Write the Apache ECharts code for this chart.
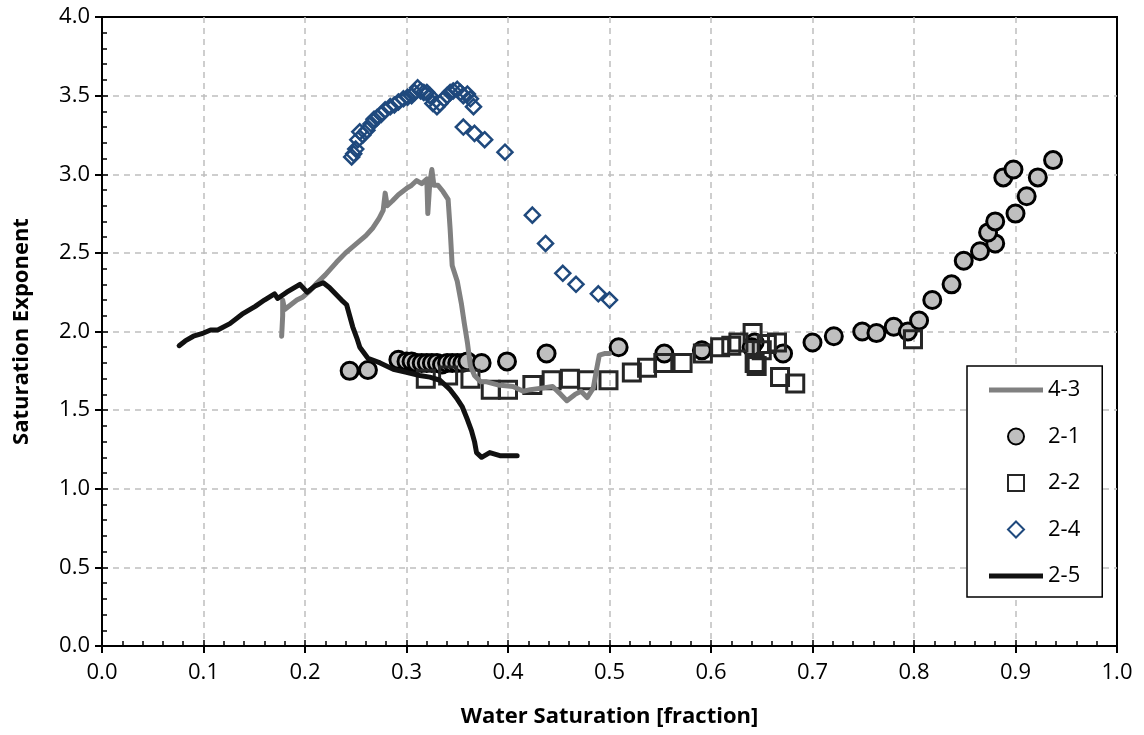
<!DOCTYPE html>
<html>
<head>
<meta charset="utf-8">
<script src="https://cdn.jsdelivr.net/npm/echarts@6/dist/echarts.min.js"></script>
<style>html,body{margin:0;padding:0;background:#fff}#c{width:1144px;height:735px}</style>
</head>
<body>
<div id="c"></div>
<script>
// ---- data ----
const xTicks = [0.0,0.1,0.2,0.3,0.4,0.5,0.6,0.7,0.8,0.9,1.0];
const yTicks = [0.0,0.5,1.0,1.5,2.0,2.5,3.0,3.5,4.0];

const s43_x = [0.177,0.178,0.178,0.180,0.186,0.192,0.198,0.205,0.212,0.220,0.231,0.240,0.251,0.260,0.267,0.273,0.277,0.279,0.281,0.286,0.292,0.300,0.305,0.310,0.315,0.320,0.321,0.323,0.325,0.327,0.331,0.336,0.341,0.343,0.345,0.350,0.354,0.357,0.360,0.363,0.367,0.373,0.379,0.390,0.405,0.415,0.422,0.433,0.444,0.452,0.458,0.466,0.472,0.478,0.484,0.487,0.490,0.495,0.500];
const s43_y = [1.97,2.10,2.20,2.14,2.17,2.20,2.22,2.26,2.31,2.36,2.44,2.50,2.56,2.61,2.66,2.72,2.77,2.88,2.80,2.83,2.87,2.91,2.93,2.96,2.94,2.97,2.75,2.95,3.03,2.93,2.93,2.89,2.84,2.65,2.42,2.32,2.18,2.05,1.93,1.78,1.72,1.68,1.68,1.66,1.65,1.62,1.63,1.64,1.65,1.60,1.56,1.60,1.62,1.58,1.64,1.75,1.85,1.86,1.86];

const s21_x = [0.244,0.262,0.292,0.300,0.305,0.310,0.315,0.320,0.325,0.330,0.335,0.340,0.345,0.350,0.355,0.360,0.374,0.399,0.438,0.509,0.554,0.591,0.643,0.640,0.671,0.700,0.721,0.749,0.763,0.780,0.794,0.805,0.818,0.837,0.849,0.865,0.880,0.873,0.880,0.888,0.898,0.900,0.911,0.922,0.937];
const s21_y = [1.75,1.755,1.82,1.81,1.81,1.80,1.80,1.80,1.80,1.80,1.79,1.80,1.80,1.80,1.80,1.81,1.80,1.81,1.86,1.90,1.86,1.88,1.93,1.90,1.86,1.93,1.97,2.00,1.99,2.03,2.00,2.07,2.20,2.30,2.45,2.51,2.56,2.63,2.70,2.98,3.03,2.75,2.86,2.98,3.09];

const s22_x = [0.319,0.341,0.363,0.383,0.400,0.424,0.443,0.461,0.478,0.499,0.522,0.537,0.553,0.572,0.592,0.609,0.620,0.627,0.641,0.643,0.645,0.650,0.655,0.665,0.668,0.683,0.799];
const s22_y = [1.70,1.72,1.70,1.63,1.63,1.66,1.69,1.70,1.69,1.69,1.74,1.77,1.80,1.80,1.86,1.90,1.91,1.93,1.99,1.80,1.78,1.88,1.92,1.93,1.71,1.67,1.95];

const s24_x = [0.246,0.248,0.250,0.252,0.254,0.257,0.261,0.265,0.268,0.271,0.275,0.279,0.284,0.288,0.292,0.297,0.301,0.305,0.308,0.311,0.314,0.317,0.320,0.323,0.326,0.330,0.333,0.337,0.340,0.343,0.346,0.350,0.353,0.356,0.360,0.363,0.366,0.356,0.367,0.377,0.397,0.424,0.437,0.454,0.467,0.489,0.500];
const s24_y = [3.11,3.13,3.16,3.22,3.27,3.25,3.28,3.32,3.35,3.36,3.38,3.41,3.43,3.44,3.46,3.48,3.49,3.50,3.52,3.55,3.53,3.52,3.52,3.50,3.45,3.43,3.45,3.48,3.50,3.52,3.53,3.54,3.52,3.50,3.51,3.48,3.43,3.30,3.26,3.22,3.14,2.74,2.56,2.37,2.30,2.24,2.20];

const s25_x = [0.076,0.082,0.090,0.100,0.107,0.114,0.126,0.138,0.151,0.160,0.170,0.173,0.182,0.195,0.202,0.210,0.218,0.224,0.230,0.236,0.241,0.244,0.247,0.251,0.254,0.262,0.274,0.287,0.300,0.313,0.323,0.333,0.343,0.350,0.355,0.360,0.364,0.367,0.369,0.374,0.382,0.392,0.400,0.409];
const s25_y = [1.91,1.94,1.97,1.99,2.01,2.01,2.05,2.11,2.16,2.20,2.24,2.21,2.25,2.30,2.25,2.29,2.31,2.28,2.24,2.20,2.17,2.10,2.03,1.96,1.90,1.83,1.80,1.76,1.74,1.72,1.71,1.69,1.63,1.57,1.52,1.44,1.37,1.30,1.23,1.20,1.23,1.21,1.21,1.21];

function pairs(xs, ys){ return xs.map((x,i)=>[x, ys[i]]); }

const FONT = '"Open Sans", Lato, sans-serif';
const chart = echarts.init(document.getElementById('c'), null, {renderer:'canvas'});

const gridLine = {show:true, showMinLine:false, showMaxLine:false, lineStyle:{color:'#bfbfbf', width:1.5, type:[6,5]}};
const labelStyle = {fontFamily:FONT, fontSize:22, color:'#000'};

const ICON_LINE = 'path://M0,0H54V5H0Z';
const ICON_CIRCLE = 'path://M8,0A8,8,0,1,1,7.99,0Z';
const ICON_SQUARE = 'path://M0,0H15V15H0Z';
const ICON_DIAMOND = 'path://M7,0L14,7L7,14L0,7Z';

chart.setOption({
  animation:false,
  backgroundColor:'#fff',
  grid:{left:102, right:27, top:17, bottom:89, show:true, borderColor:'#000', borderWidth:2, backgroundColor:'transparent'},
  xAxis:[{
    type:'value', min:0, max:1, interval:0.1,
    name:'Water Saturation [fraction]', nameLocation:'middle', nameGap:60,
    nameTextStyle:{fontFamily:FONT, fontSize:22, fontWeight:'bold', color:'#000'},
    axisLine:{show:true, onZero:false, lineStyle:{color:'#000', width:2}},
    axisTick:{show:true, inside:false, length:7, lineStyle:{color:'#000', width:2}},
    axisLabel:Object.assign({margin:16, formatter:v=>v.toFixed(1)}, labelStyle),
    splitLine:gridLine
  },{
    type:'value', min:0, max:1, interval:0.1, position:'bottom',
    axisLine:{show:false},
    axisTick:{show:true, inside:true, length:6, lineStyle:{color:'#000', width:1.5}},
    minorTick:{show:true, splitNumber:5, length:5, lineStyle:{color:'#000', width:1.5}},
    axisLabel:{show:false}, splitLine:{show:false}
  }],
  yAxis:[{
    type:'value', min:0, max:4, interval:0.5,
    name:'Saturation Exponent', nameLocation:'middle', nameGap:69, nameRotate:90,
    nameTextStyle:{fontFamily:FONT, fontSize:22, fontWeight:'bold', color:'#000'},
    axisLine:{show:true, onZero:false, lineStyle:{color:'#000', width:2}},
    axisTick:{show:true, inside:false, length:7, lineStyle:{color:'#000', width:2}},
    axisLabel:Object.assign({margin:12, formatter:v=>v.toFixed(1)}, labelStyle),
    splitLine:gridLine
  },{
    type:'value', min:0, max:4, interval:0.5, position:'left',
    axisLine:{show:false},
    axisTick:{show:true, inside:true, length:6, lineStyle:{color:'#000', width:1.5}},
    minorTick:{show:true, splitNumber:5, length:5, lineStyle:{color:'#000', width:1.5}},
    axisLabel:{show:false}, splitLine:{show:false}
  }],
  legend:{
    orient:'vertical', left:967, top:366,
    backgroundColor:'#fff', borderColor:'#000', borderWidth:1.5,
    padding:[13,22,10,22], itemGap:24.5, itemWidth:54, itemHeight:16,
    textStyle:{fontFamily:FONT, fontSize:22, color:'#000'},
    data:[
      {name:'4-3', icon:ICON_LINE},
      {name:'2-1', icon:ICON_CIRCLE},
      {name:'2-2', icon:ICON_SQUARE},
      {name:'2-4', icon:ICON_DIAMOND},
      {name:'2-5', icon:ICON_LINE}
    ]
  },
  series:[
    {name:'4-3', type:'line', symbol:'none', data:pairs(s43_x,s43_y),
     lineStyle:{color:'#808080', width:5, join:'round', cap:'round'}, itemStyle:{color:'#808080'}},
    {name:'2-1', type:'scatter', symbol:'circle', symbolSize:17, data:pairs(s21_x,s21_y),
     itemStyle:{color:'#bfbfbf', borderColor:'#000', borderWidth:3, opacity:1}},
    {name:'2-2', type:'scatter', symbol:'rect', symbolSize:17, data:pairs(s22_x,s22_y),
     itemStyle:{color:'rgba(255,255,255,0)', borderColor:'#262626', borderWidth:3, opacity:1}},
    {name:'2-4', type:'scatter', symbol:'diamond', symbolSize:15, data:pairs(s24_x,s24_y),
     itemStyle:{color:'rgba(255,255,255,0)', borderColor:'#1f497d', borderWidth:2.5, opacity:1}},
    {name:'2-5', type:'line', symbol:'none', data:pairs(s25_x,s25_y),
     lineStyle:{color:'#111', width:5, join:'round', cap:'round'}, itemStyle:{color:'#111'}}
  ]
});
</script>
</body>
</html>
